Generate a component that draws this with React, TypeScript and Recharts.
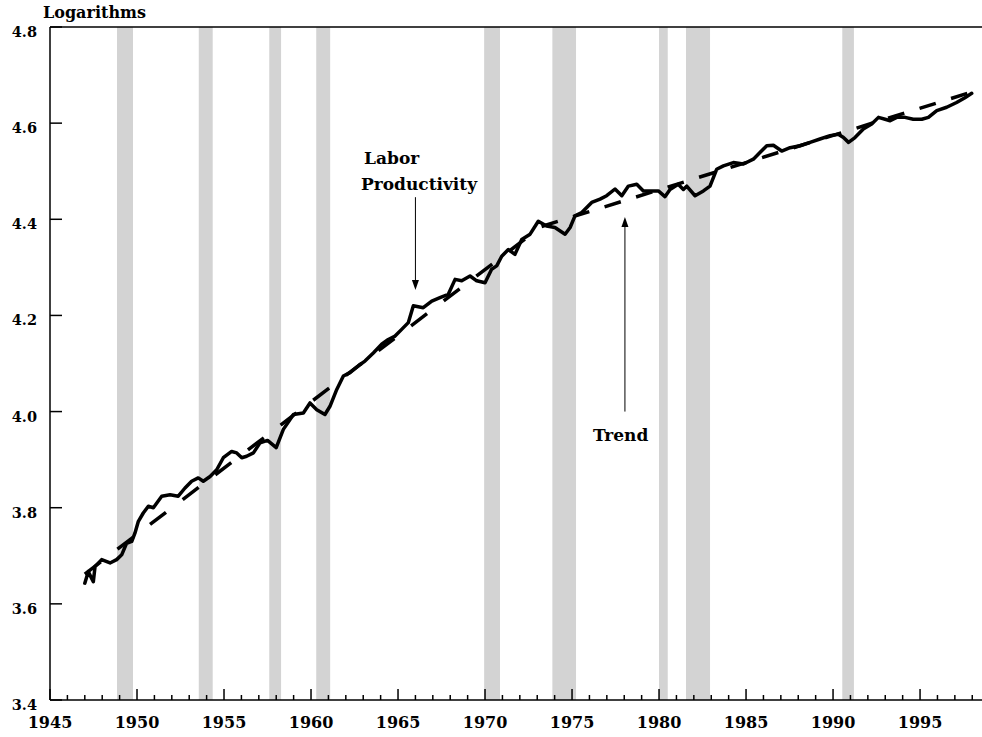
import React from 'react';
import {
  LineChart,
  Line,
  XAxis,
  YAxis,
  ReferenceArea,
  ReferenceLine,
  ReferenceDot
} from 'recharts';

// Labor productivity (logs)
const prodYears = [
  1947.0, 1947.2, 1947.49, 1947.59, 1947.97, 1948.45, 1948.83, 1949.12, 1949.4, 1949.7,
  1949.88, 1950.07, 1950.36, 1950.65, 1950.94, 1951.42, 1951.9, 1952.37, 1952.76, 1953.14,
  1953.52, 1953.81, 1954.2, 1954.58, 1954.96, 1955.44, 1955.73, 1956.02, 1956.3, 1956.69,
  1957.07, 1957.5, 1958.0, 1958.41, 1958.99, 1959.56, 1959.94, 1960.33, 1960.8, 1961.09,
  1961.48, 1961.86, 1962.24, 1962.82, 1963.1, 1963.58, 1964.06, 1964.44, 1964.83, 1965.21,
  1965.59, 1965.88, 1966.45, 1966.94, 1967.41, 1967.89, 1968.28, 1968.66, 1969.14, 1969.52,
  1970.0, 1970.38, 1970.67, 1970.96, 1971.34, 1971.72, 1972.11, 1972.59, 1973.06, 1973.54,
  1974.02, 1974.6, 1974.89, 1975.17, 1975.56, 1976.13, 1976.61, 1976.99, 1977.47, 1977.86,
  1978.24, 1978.72, 1979.1, 1979.58, 1979.96, 1980.34, 1980.63, 1981.1, 1981.4, 1981.59,
  1982.07, 1982.55, 1982.93, 1983.31, 1983.7, 1984.27, 1984.85, 1985.42, 1985.8, 1986.19,
  1986.57, 1987.05, 1987.53, 1988.1, 1988.68, 1989.25, 1989.83, 1990.3, 1990.6, 1990.89,
  1991.26, 1991.74, 1992.22, 1992.61, 1992.99, 1993.28, 1993.66, 1994.14, 1994.61, 1995.1,
  1995.48, 1995.96, 1996.53, 1997.1, 1997.58, 1997.97
];
const prodValues = [
  3.643, 3.667, 3.646, 3.678, 3.692, 3.685, 3.692, 3.702, 3.726, 3.73,
  3.747, 3.771, 3.789, 3.803, 3.8, 3.824, 3.827, 3.824, 3.841, 3.855,
  3.862, 3.855, 3.865, 3.879, 3.904, 3.917, 3.914, 3.904, 3.907, 3.914,
  3.935, 3.94, 3.925, 3.963, 3.994, 3.997, 4.018, 4.004, 3.994, 4.011,
  4.046, 4.074, 4.081, 4.098, 4.105, 4.122, 4.14, 4.15, 4.157, 4.171,
  4.185, 4.22, 4.216, 4.23, 4.237, 4.244, 4.275, 4.272, 4.282, 4.272,
  4.268, 4.296, 4.303, 4.323, 4.337, 4.327, 4.358, 4.369, 4.396, 4.386,
  4.383, 4.369, 4.383, 4.407, 4.414, 4.435, 4.442, 4.449, 4.463, 4.449,
  4.469, 4.473, 4.459, 4.459, 4.459, 4.447, 4.462, 4.473, 4.462, 4.469,
  4.449, 4.459, 4.469, 4.504, 4.511, 4.518, 4.515, 4.525, 4.539, 4.553,
  4.554, 4.542, 4.549, 4.553, 4.56, 4.567, 4.574, 4.577, 4.57, 4.56,
  4.57, 4.588, 4.598, 4.612, 4.608, 4.605, 4.612, 4.612, 4.608, 4.608,
  4.612, 4.626, 4.633, 4.643, 4.653, 4.662
];

// piecewise trend, break in 1973
const trendEarlyYears = [1947.0, 1973.25];
const trendEarlyValues = [3.662, 4.385];
const trendLateYears = [1973.25, 1998.0];
const trendLateValues = [4.385, 4.665];

// recessions (start, end)
const recessionStarts = [1948.85, 1953.55, 1957.6, 1960.3, 1969.95, 1973.87, 1980.0, 1981.55, 1990.53];
const recessionEnds = [1949.77, 1954.35, 1958.28, 1961.1, 1970.86, 1975.23, 1980.5, 1982.93, 1991.2];

const yTicks = [3.4, 3.6, 3.8, 4.0, 4.2, 4.4, 4.6, 4.8];
const xTicks = Array.from({ length: 54 }, (_, i) => 1945 + i);

const productivity = prodYears.map((year, i) => ({ year, value: prodValues[i] }));
const trendEarly = trendEarlyYears.map((year, i) => ({ year, value: trendEarlyValues[i] }));
const trendLate = trendLateYears.map((year, i) => ({ year, value: trendLateValues[i] }));

const FONT = 'DejaVu Serif';

const XTick = (props: any) => {
  const { x, y, payload } = props;
  const yr = payload.value;
  const major = yr % 5 === 0;
  return (
    <g>
      <line x1={x} x2={x} y1={y} y2={y - (major ? 11 : 5)} stroke="#000" strokeWidth={1.5} />
      {major && (
        <text x={x} y={y + 28} textAnchor="middle" fontFamily={FONT} fontWeight="bold" fontSize={16} fill="#000">
          {yr}
        </text>
      )}
    </g>
  );
};

const YTick = (props: any) => {
  const { x, y, payload } = props;
  return (
    <g>
      <line x1={x} x2={x + 12} y1={y} y2={y} stroke="#000" strokeWidth={1.5} />
      <text x={x - 13} y={y + 10} textAnchor="end" fontFamily={FONT} fontWeight="bold" fontSize={14.5} fill="#000">
        {payload.value.toFixed(1)}
      </text>
    </g>
  );
};

const label = (txt: string) => (p: any) => (
  <text x={p.cx} y={p.cy} fontFamily={FONT} fontWeight="bold" fontSize={17} fill="#000">
    {txt}
  </text>
);

const headDown = (p: any) => (
  <polygon points={`${p.cx},${p.cy} ${p.cx - 3.5},${p.cy - 10} ${p.cx + 3.5},${p.cy - 10}`} fill="#000" />
);
const headUp = (p: any) => (
  <polygon points={`${p.cx},${p.cy} ${p.cx - 3.5},${p.cy + 10} ${p.cx + 3.5},${p.cy + 10}`} fill="#000" />
);

export default function App() {
  return (
    <div style={{ position: 'absolute', left: 0, top: 0, width: 982, height: 737, background: '#fff' }}>
      <svg width={200} height={26} style={{ position: 'absolute', left: 0, top: 0 }}>
        <text x={43} y={18} fontFamily={FONT} fontWeight="bold" fontSize={16} fill="#000">
          Logarithms
        </text>
      </svg>
      <LineChart width={982} height={737} margin={{ top: 27, right: 0, bottom: 0, left: 0 }}>
        {recessionStarts.map((s, i) => (
          <ReferenceArea key={i} x1={s} x2={recessionEnds[i]} fill="#d3d3d3" fillOpacity={1} stroke="none" />
        ))}
        <XAxis
          dataKey="year"
          type="number"
          domain={[1945, 1998.56]}
          allowDataOverflow
          ticks={xTicks}
          interval={0}
          tickSize={0}
          tickMargin={0}
          tickLine={false}
          tick={<XTick />}
          height={37}
          stroke="#000"
          strokeWidth={1.5}
        />
        <YAxis
          type="number"
          domain={[3.4, 4.8]}
          ticks={yTicks}
          interval={0}
          tickSize={0}
          tickMargin={0}
          tickLine={false}
          tick={<YTick />}
          width={50}
          stroke="#000"
          strokeWidth={1.5}
        />
        <ReferenceLine y={4.8} stroke="#000" strokeWidth={1.5} />
        <Line
          data={trendEarly}
          dataKey="value"
          stroke="#000"
          strokeWidth={3.5}
          strokeDasharray="20 21"
          dot={false}
          isAnimationActive={false}
        />
        <Line
          data={trendLate}
          dataKey="value"
          stroke="#000"
          strokeWidth={3.5}
          strokeDasharray="17 16"
          dot={false}
          isAnimationActive={false}
        />
        <Line
          data={productivity}
          dataKey="value"
          stroke="#000"
          strokeWidth={3.5}
          strokeLinejoin="round"
          strokeLinecap="round"
          dot={false}
          isAnimationActive={false}
        />
        <ReferenceLine segment={[{ x: 1966.0, y: 4.446 }, { x: 1966.0, y: 4.26 }]} stroke="#000" strokeWidth={1} />
        <ReferenceDot x={1966.0} y={4.253} r={0} shape={headDown} />
        <ReferenceLine segment={[{ x: 1978.04, y: 4.0 }, { x: 1978.04, y: 4.395 }]} stroke="#000" strokeWidth={1} />
        <ReferenceDot x={1978.04} y={4.405} r={0} shape={headUp} />
        <ReferenceDot x={1963.05} y={4.515} r={0} shape={label('Labor')} />
        <ReferenceDot x={1962.87} y={4.461} r={0} shape={label('Productivity')} />
        <ReferenceDot x={1976.2} y={3.939} r={0} shape={label('Trend')} />
      </LineChart>
    </div>
  );
}
